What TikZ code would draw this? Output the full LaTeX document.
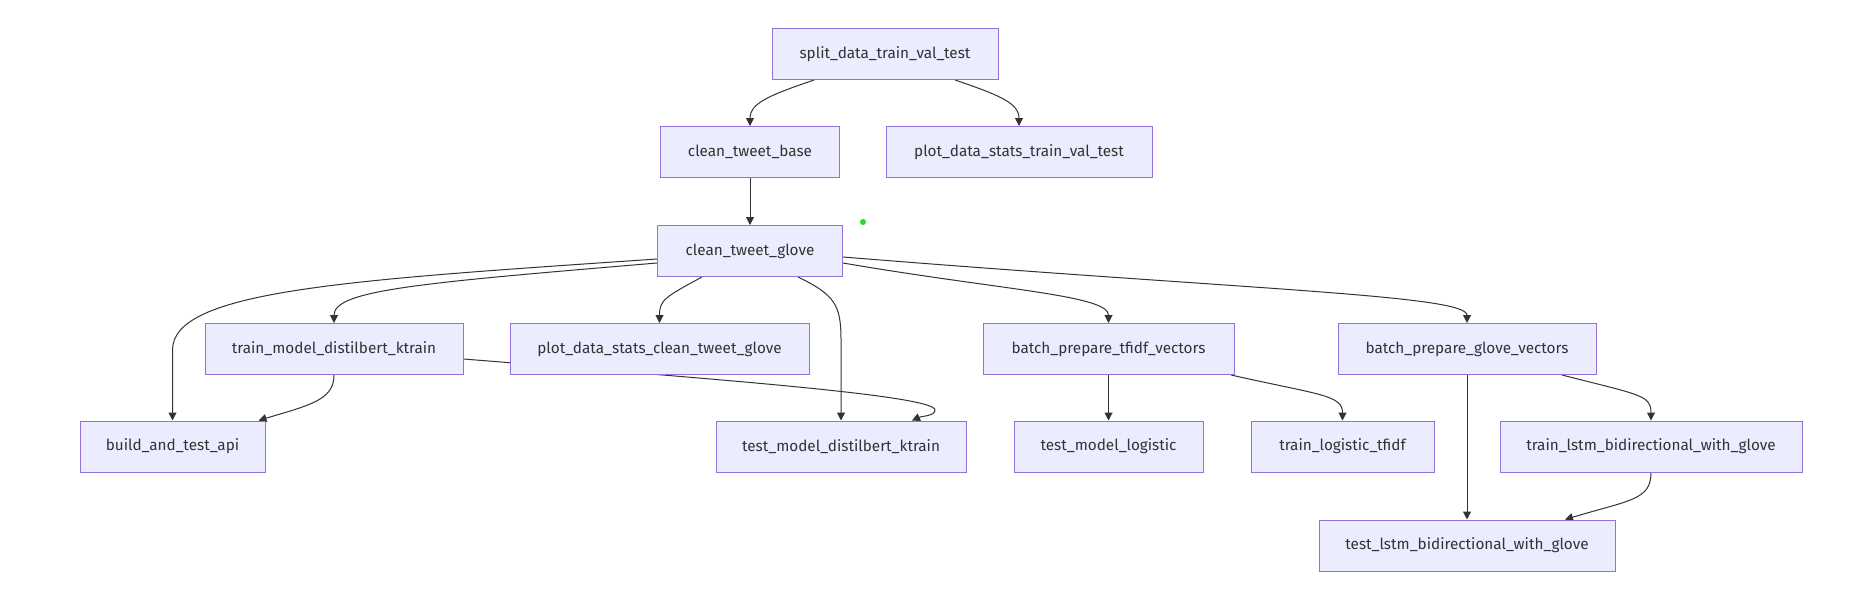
\documentclass[tikz,border=0pt]{standalone}
\usepackage{fontspec}
\setmainfont{Fira Sans}
\usetikzlibrary{arrows.meta}
\definecolor{nodefill}{HTML}{ECECFF}
\definecolor{nodeborder}{HTML}{9370DB}
\definecolor{edgecol}{HTML}{333333}
\definecolor{txtcol}{HTML}{333333}
\definecolor{dotgreen}{HTML}{22DD22}
\pgfdeclarelayer{back}
\pgfdeclarelayer{edges}
\pgfsetlayers{back,edges,main}
\tikzset{
  box/.style={draw=nodeborder, fill=nodefill, line width=1pt, text=txtcol,
    minimum height=51pt, inner sep=0pt, font=\fontsize{15.3}{17}\selectfont},
  conn/.style={draw=edgecol, line width=1pt, -{Triangle[length=8pt,width=8pt]}}
}
\begin{document}
\begin{tikzpicture}[x=1pt,y=-1pt]
\begin{pgfonlayer}{back}
\fill[white] (0,0) rectangle (1870,592);
\end{pgfonlayer}
\useasboundingbox (0,0) rectangle (1870,592);

\node[box, minimum width=226pt] (split) at (885,54) {split\_data\_train\_val\_test};
\node[box, minimum width=179pt] (base) at (750,152) {clean\_tweet\_base};
\node[box, minimum width=266pt] (ptvt) at (1019,152) {plot\_data\_stats\_train\_val\_test};
\node[box, minimum width=185pt] (glove) at (750,251) {clean\_tweet\_glove};
\node[box, minimum width=258pt] (trainm) at (334,349) {train\_model\_distilbert\_ktrain};
\node[box, minimum width=299pt] (pclean) at (659.5,349) {plot\_data\_stats\_clean\_tweet\_glove};
\node[box, minimum width=251pt] (tfidf) at (1108.5,349) {batch\_prepare\_tfidf\_vectors};
\node[box, minimum width=258pt] (gvec) at (1467,349) {batch\_prepare\_glove\_vectors};
\node[box, minimum width=185pt] (api) at (172.5,446.5) {build\_and\_test\_api};
\node[box, minimum width=250pt] (testd) at (841,446.5) {test\_model\_distilbert\_ktrain};
\node[box, minimum width=189pt] (testlog) at (1108.5,446.5) {test\_model\_logistic};
\node[box, minimum width=183pt] (trainlog) at (1342.5,446.5) {train\_logistic\_tfidf};
\node[box, minimum width=302pt] (trainlstm) at (1651,446.5) {train\_lstm\_bidirectional\_with\_glove};
\node[box, minimum width=296pt] (testlstm) at (1467,545.5) {test\_lstm\_bidirectional\_with\_glove};

\fill[dotgreen] (863,222) circle (3pt);

\begin{pgfonlayer}{edges}
\draw[conn] ([xshift=-71pt]split.south) .. controls (770,95) and (750,103) .. (base.north);
\draw[conn] ([xshift=70pt]split.south) .. controls (999,95) and (1019,103) .. (ptvt.north);
\draw[conn] (base.south) -- (glove.north);
\draw[conn] ([yshift=-8pt]glove.west) .. controls (350,280) and (172.5,290) .. (172.5,350) -- (api.north);
\draw[conn] ([yshift=-12pt]glove.west) .. controls (420,283) and (334,290) .. (trainm.north);
\draw[conn] ([xshift=-48pt]glove.south) .. controls (665,297) and (659.5,300) .. (pclean.north);
\draw[conn] ([xshift=48pt]glove.south) .. controls (835,295) and (841,305) .. (841,340) -- (testd.north);
\draw[conn] ([yshift=-12pt]glove.east) .. controls (1000,290) and (1108.5,295) .. (tfidf.north);
\draw[conn] ([yshift=-6pt]glove.east) .. controls (1250,290) and (1467,295) .. (gvec.north);
\draw[conn] (trainm.south) .. controls (334,400) and (310,405) .. ([xshift=86pt]api.north);
\draw[conn] ([yshift=-10pt]trainm.east) .. controls (700,378) and (935,395) .. (935,410) .. controls (935,416) and (922,416) .. ([xshift=71pt]testd.north);
\draw[conn] (tfidf.south) -- (testlog.north);
\draw[conn] ([xshift=122.5pt]tfidf.south) .. controls (1320,395) and (1342.5,395) .. (trainlog.north);
\draw[conn] (gvec.south) -- (testlstm.north);
\draw[conn] ([xshift=95pt]gvec.south) .. controls (1640,395) and (1651,395) .. (trainlstm.north);
\draw[conn] (trainlstm.south) .. controls (1651,500) and (1630,500) .. ([xshift=98pt]testlstm.north);
\end{pgfonlayer}
\end{tikzpicture}
\end{document}
